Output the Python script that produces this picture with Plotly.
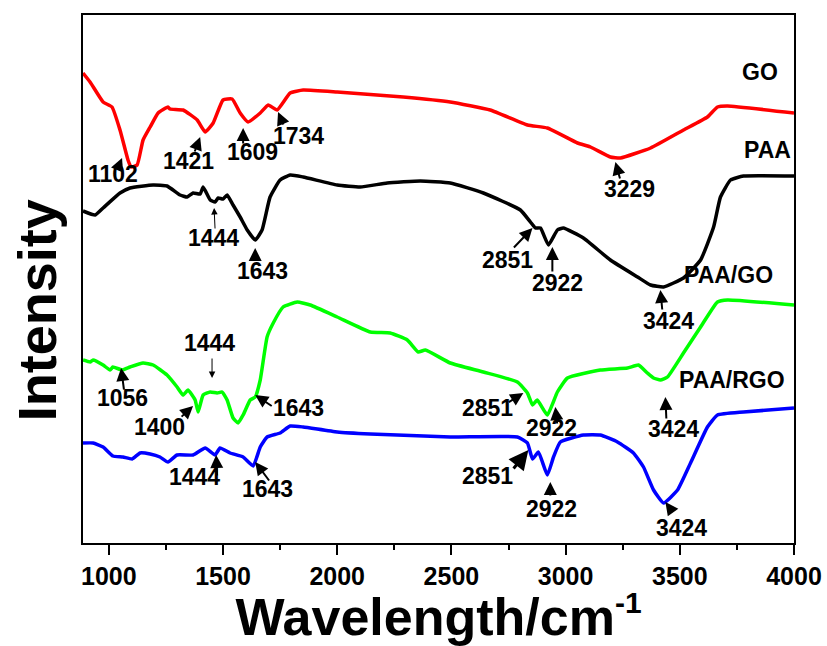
import plotly.graph_objects as go

# ---------------- data (wavenumber in cm-1, intensity in a.u., curves offset) ----------------
go_x = [887, 918, 975, 1014, 1049, 1084, 1097, 1124, 1150, 1181, 1216, 1259, 1268, 1325, 1387, 1422,
        1457, 1500, 1540, 1575, 1610, 1663, 1698, 1737, 1794, 1851, 2000, 2289, 2495, 2670, 2833,
        2920, 3052, 3109, 3196, 3240, 3372, 3516, 3621, 3665, 3709, 4000]
go_y = [470, 461, 441, 436, 413, 383, 376, 378, 403, 416, 430, 436, 434, 433, 423, 411,
        420, 443, 444, 430, 421, 430, 438, 433, 450, 453, 451, 446, 441, 433, 418,
        415, 400, 396, 386, 385, 395, 413, 426, 436, 437, 430]

paa_x = [887, 940, 975, 1049, 1093, 1194, 1255, 1312, 1343, 1369, 1400, 1413, 1444, 1465, 1479, 1500,
         1518, 1544, 1575, 1606, 1641, 1671, 1706, 1750, 1794, 1851, 2000, 2101, 2219, 2364, 2495,
         2640, 2802, 2846, 2868, 2890, 2925, 2964, 2990, 3078, 3196, 3315, 3372, 3429, 3516, 3591,
         3648, 3678, 3722, 3779, 4000]
paa_y = [332, 328, 335, 350, 355, 358, 357, 348, 346, 350, 349, 356, 343, 341, 345, 344,
         348, 338, 326, 313, 303, 313, 346, 363, 368, 366, 358, 356, 360, 362, 360,
         350, 333, 321, 315, 315, 298, 313, 315, 305, 283, 266, 258, 256, 265, 283,
         316, 346, 363, 367, 367]

paago_x = [887, 918, 931, 975, 1005, 1018, 1058, 1093, 1150, 1194, 1255, 1299, 1325, 1347, 1378, 1391,
           1413, 1444, 1474, 1496, 1518, 1544, 1566, 1588, 1619, 1641, 1663, 1693, 1720, 1763, 1825,
           1882, 2000, 2145, 2232, 2307, 2355, 2386, 2495, 2640, 2789, 2833, 2855, 2876, 2920, 2964,
           3008, 3152, 3271, 3319, 3358, 3385, 3415, 3446, 3516, 3591, 3665, 3709, 4000]
paago_y = [183, 181, 183, 178, 173, 176, 173, 176, 180, 178, 168, 156, 148, 153, 143, 131,
           148, 151, 150, 151, 143, 125, 120, 128, 143, 146, 163, 206, 220, 236, 241,
           238, 226, 211, 210, 203, 191, 193, 180, 171, 161, 150, 138, 143, 128, 151,
           165, 173, 175, 178, 170, 165, 163, 166, 190, 216, 241, 243, 238]

paargo_x = [887, 931, 975, 1018, 1062, 1102, 1137, 1181, 1224, 1259, 1299, 1369, 1422, 1465, 1487, 1531,
            1588, 1632, 1663, 1693, 1750, 1794, 1851, 2000, 2145, 2495, 2789, 2833, 2855, 2881, 2920,
            2947, 2977, 3078, 3152, 3227, 3297, 3341, 3385, 3429, 3490, 3547, 3621, 3665, 3779, 4000]
paargo_y = [100, 100, 96, 87, 86, 84, 90, 89, 86, 81, 88, 88, 95, 88, 95, 90,
            86, 77, 96, 106, 110, 117, 116, 111, 109, 106, 106, 100, 84, 91, 68,
            86, 101, 108, 108, 101, 90, 76, 53, 40, 53, 80, 116, 128, 131, 135]

series_names = ["GO", "PAA", "PAA/GO", "PAA/RGO"]
series_colors = ["#ff0000", "#000000", "#00ff00", "#0000ff"]
series_x = [go_x, paa_x, paago_x, paargo_x]
series_y = [go_y, paa_y, paago_y, paargo_y]

x_ticks = [1000, 1500, 2000, 2500, 3000, 3500, 4000]

# peak labels: text, text position (wavenumber, intensity), arrow tip (wavenumber, intensity)
peak_text = ["1102", "1421", "1609", "1734", "3229",
             "1444", "1643", "2851", "2922", "3424",
             "1056", "1400", "1444", "1643", "2851", "2922", "3424",
             "1444", "1643", "2851", "2922", "3424"]
peak_tx = [1018, 1347, 1628, 1829, 3280,
           1457, 1671, 2745, 2964, 3450,
           1062, 1224, 1439, 1829, 2657, 2938, 3472,
           1373, 1693, 2657, 2938, 3507]
peak_ty = [369, 382, 391, 407, 354,
           305, 272, 283, 260, 222,
           145, 116, 200, 135, 135, 115, 114,
           66, 54, 67, 34, 15]
arrow_x = [1058, 1400, 1588, 1741, 3218,
           1461, 1641, 2855, 2942, 3415,
           1054, 1369, 1452, 1641, 2815, 2955, 3437,
           1470, 1641, 2837, 2933, 3437]
arrow_y = [385, 406, 415, 431, 381,
           335, 295, 315, 296, 253,
           175, 137, 165, 148, 150, 136, 146,
           88, 81, 93, 61, 41]

# ---------------- layout helpers (pixel offsets of arrow tails, label positions) ----------------
arrow_ax = [-5, -6, 0, 6, 5, 1, 0, -20, 0, 2, 3, -13, 0, 18, -16, 2, 1, 1, 15, -16, 0, 8]
arrow_ay = [12, 16, 17, 14, 18, 22, 12, 21, 26, 21, 23, 12, -21, 12, 10, 18, 23, 22, 20, 20, 15, 11]
arrow_w = [2, 2, 2, 2, 2, 1, 2, 2, 2, 2, 2, 2, 1, 2, 2, 2, 2, 2, 2, 3, 2, 2]

name_x = [3849, 3884, 3713, 3727]
name_y = [471, 393, 268, 163]

FONT = "Liberation Sans, Arial, sans-serif"

fig = go.Figure()
for nm, col, xs, ys in zip(series_names, series_colors, series_x, series_y):
    fig.add_trace(go.Scatter(x=xs, y=ys, mode="lines", name=nm,
                             line=dict(color=col, width=3.5, shape="spline", smoothing=0.4),
                             showlegend=False))

annotations = []
for t, tx, ty in zip(peak_text, peak_tx, peak_ty):
    annotations.append(dict(x=tx, y=ty, xref="x", yref="y", text=t, showarrow=False,
                            font=dict(family=FONT, size=23, color="black", weight="bold")))
for xx, yy, axp, ayp, aw in zip(arrow_x, arrow_y, arrow_ax, arrow_ay, arrow_w):
    annotations.append(dict(x=xx, y=yy, xref="x", yref="y", text="", showarrow=True,
                            ax=axp, ay=ayp, arrowhead=2, arrowsize=1.3, arrowwidth=aw,
                            arrowcolor="black", standoff=0, startstandoff=0))
for nm, nx, ny in zip(series_names, name_x, name_y):
    annotations.append(dict(x=nx, y=ny, xref="x", yref="y", text=nm, showarrow=False,
                            font=dict(family=FONT, size=23, color="black", weight="bold")))
annotations.append(dict(x=0, y=0.441, xref="paper", yref="paper", xshift=-46,
                        text="Intensity", textangle=-90, showarrow=False,
                        xanchor="center", yanchor="middle",
                        font=dict(family=FONT, size=54, color="black", weight="bold")))

fig.update_layout(
    width=827, height=646,
    margin=dict(l=83, r=33, t=15, b=103, autoexpand=False),
    paper_bgcolor="white", plot_bgcolor="white",
    annotations=annotations,
    xaxis=dict(range=[887, 4000], tickvals=x_ticks, ticks="outside", ticklen=10, tickwidth=1.5,
               tickcolor="black", showline=True, linecolor="black", linewidth=1.5, mirror=True,
               showgrid=False, zeroline=False, automargin=False,
               minor=dict(dtick=250, tick0=1000, ticks="outside", ticklen=5, tickwidth=1.5,
                          tickcolor="black", showgrid=False),
               tickfont=dict(family=FONT, size=25, color="black", weight="bold"),
               title=dict(text="Wavelength/cm<sup><span style='font-size:30px'>-1</span></sup>",
                          standoff=4,
                          font=dict(family=FONT, size=52, color="black", weight="bold"))),
    yaxis=dict(range=[0, 528], showticklabels=False, ticks="", showline=True, linecolor="black",
               linewidth=1.5, mirror=True, showgrid=False, zeroline=False, automargin=False),
)

fig.write_html("out.html")
